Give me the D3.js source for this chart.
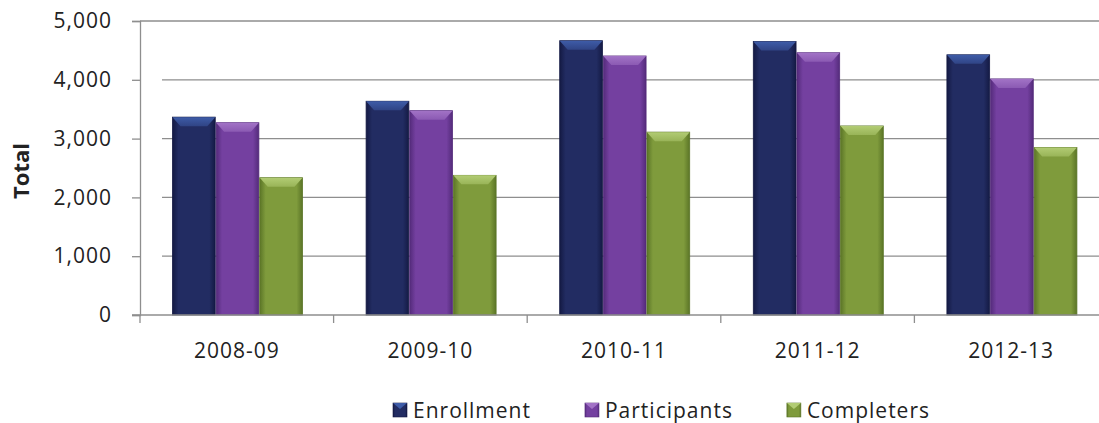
<!DOCTYPE html>
<html>
<head>
<meta charset="utf-8">
<script src="https://cdn.jsdelivr.net/npm/d3@7/dist/d3.min.js"></script>
<style>
  body { margin: 0; background: #fff; }
  text { font-family: "Open Sans", sans-serif; fill: #222; }
</style>
</head>
<body>
<div id="chart"></div>
<script>
var years = ["2008-09", "2009-10", "2010-11", "2011-12", "2012-13"];
var seriesNames = ["Enrollment", "Participants", "Completers"];
var enrollment = [3365, 3635, 4665, 4650, 4425];
var participants = [3270, 3475, 4405, 4460, 4015];
var completers = [2335, 2375, 3110, 3215, 2850];
var yTicks = [0, 1000, 2000, 3000, 4000, 5000];

// colours per series: body, light bevel, dark edge
var palette = {
    Enrollment: ["#222c62", "#3e5ca8", "#141a44"],
    Participants: ["#7440a0", "#a273c6", "#542b7b"],
    Completers: ["#7f9b3c", "#b2cc74", "#5b7527"]
};

var rows = years.map(function (yr, i) {
    return { year: yr, values: [enrollment[i], participants[i], completers[i]] };
});

var W = 1099, H = 423;
var plotLeft = 140, base = 315, plotTop = 21;

var svg = d3.select("#chart")
    .append("svg")
    .attr("width", W)
    .attr("height", H);

var x0 = d3.scaleBand().domain(years).range([plotLeft, plotLeft + 5 * 193.6]).padding(0);
var x1 = d3.scaleBand().domain(seriesNames).range([0, 130]).paddingInner(0.02);
var y = d3.scaleLinear().domain([0, 5000]).range([base, plotTop]);

var defs = svg.append("defs");
seriesNames.forEach(function (name) {
    var c = palette[name];
    var g = defs.append("linearGradient").attr("id", "body-" + name)
        .attr("x1", "0").attr("x2", "1").attr("y1", "0").attr("y2", "0");
    g.append("stop").attr("offset", "0").attr("stop-color", c[2]);
    g.append("stop").attr("offset", "0.14").attr("stop-color", c[0]);
    g.append("stop").attr("offset", "0.86").attr("stop-color", c[0]);
    g.append("stop").attr("offset", "1").attr("stop-color", c[2]);
    var t = defs.append("linearGradient").attr("id", "top-" + name)
        .attr("x1", "0").attr("x2", "0").attr("y1", "0").attr("y2", "1");
    t.append("stop").attr("offset", "0").attr("stop-color", c[1]);
    t.append("stop").attr("offset", "1").attr("stop-color", d3.interpolateRgb(c[1], c[0])(0.5));
});

// gridlines (Excel 3D wall leaves a small gap next to the axis)
svg.append("g")
    .selectAll("line")
    .data(yTicks.filter(function (v) { return v > 0; }))
    .enter().append("line")
    .attr("x1", function (v) { return v == 5000 ? plotLeft : 162; })
    .attr("x2", W)
    .attr("y1", function (v) { return y(v); })
    .attr("y2", function (v) { return y(v); })
    .attr("stroke", "#8e8e8e")
    .attr("stroke-width", 1.3);

// y axis
var yAxis = d3.axisLeft(y).tickValues(yTicks).tickSize(8).tickPadding(20).tickFormat(d3.format(","));
var ya = svg.append("g")
    .attr("transform", "translate(" + plotLeft + ",0)")
    .call(yAxis);
ya.select(".domain").attr("stroke", "#8e8e8e").attr("stroke-width", 1.3);
ya.selectAll(".tick line").attr("stroke", "#8e8e8e").attr("stroke-width", 1.3);
ya.selectAll("text").style("font-size", "21px").style("letter-spacing", "1px").attr("fill", "#222");

svg.append("text")
    .attr("transform", "translate(29,171) rotate(-90)")
    .attr("text-anchor", "middle")
    .style("font-size", "22px")
    .style("font-weight", "bold")
    .text("Total");

// bars
var groups = svg.append("g")
    .selectAll("g")
    .data(rows).enter().append("g")
    .attr("transform", function (r) { return "translate(" + (x0(r.year) + 32.5) + ",0)"; });

var bars = groups.selectAll("g")
    .data(function (r) {
        return r.values.map(function (v, i) { return { name: seriesNames[i], value: v }; });
    })
    .enter().append("g");

bars.append("rect")
    .attr("x", function (d) { return x1(d.name); })
    .attr("y", function (d) { return y(d.value); })
    .attr("width", x1.bandwidth())
    .attr("height", function (d) { return base - y(d.value); })
    .attr("fill", function (d) { return "url(#body-" + d.name + ")"; })
    .attr("stroke", function (d) { return palette[d.name][2]; })
    .attr("stroke-width", 0.8);

bars.append("path")
    .attr("d", function (d) {
        var bx = x1(d.name), bw = x1.bandwidth(), by = y(d.value);
        return "M" + bx + "," + by + "L" + (bx + bw) + "," + by +
            "L" + (bx + bw - 8) + "," + (by + 9) + "L" + (bx + 8) + "," + (by + 9) + "Z";
    })
    .attr("fill", function (d) { return "url(#top-" + d.name + ")"; });

// x axis
svg.append("line")
    .attr("x1", 132).attr("x2", W)
    .attr("y1", base).attr("y2", base)
    .attr("stroke", "#8e8e8e").attr("stroke-width", 1.3);

svg.append("g")
    .selectAll("line")
    .data(years)
    .enter().append("line")
    .attr("x1", function (yr) { return x0(yr); })
    .attr("x2", function (yr) { return x0(yr); })
    .attr("y1", base).attr("y2", base + 8)
    .attr("stroke", "#8e8e8e").attr("stroke-width", 1.3);

var xa = svg.append("g")
    .attr("transform", "translate(0," + base + ")")
    .call(d3.axisBottom(x0).tickSize(0).tickPadding(28));
xa.select(".domain").remove();
xa.selectAll("text").style("font-size", "21px").style("letter-spacing", "1px").attr("fill", "#222");

// legend
var lx = 393;
seriesNames.forEach(function (name) {
    var c = palette[name];
    var item = svg.append("g").attr("transform", "translate(" + lx + ",403)");
    item.append("rect")
        .attr("width", 14).attr("height", 14)
        .attr("fill", "url(#body-" + name + ")")
        .attr("stroke", c[2]).attr("stroke-width", 0.6);
    item.append("path")
        .attr("d", "M0,0L14,0L7,6Z")
        .attr("fill", c[1]);
    var t = item.append("text")
        .attr("x", 20).attr("y", 14.5)
        .style("font-size", "21px")
        .style("letter-spacing", "1px")
        .text(name);
    lx += 20 + t.node().getComputedTextLength() + 54;
});
</script>
</body>
</html>
